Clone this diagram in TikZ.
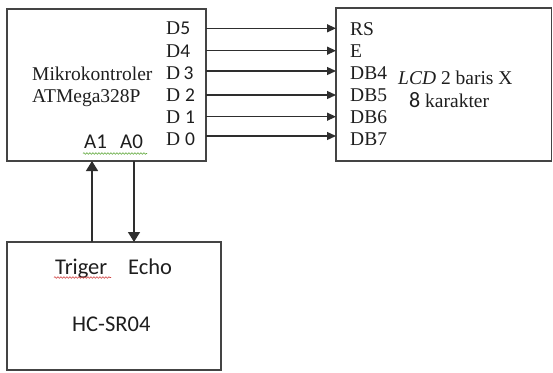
\documentclass[tikz,border=0pt]{standalone}
\usepackage{fontspec}
\setmainfont{Liberation Serif}
\newfontfamily\calfont{Carlito}
\usetikzlibrary{arrows.meta,decorations.pathmorphing}
\definecolor{linec}{HTML}{2E2E2E}
\definecolor{boxc}{HTML}{444444}
\definecolor{txtc}{HTML}{1E1E1E}
\definecolor{spellg}{HTML}{5FA83A}
\definecolor{spellr}{HTML}{D04040}
\begin{document}
\begin{tikzpicture}[x=1pt,y=-1pt,
  box/.style={draw=boxc, line width=1.5pt, rectangle, inner sep=0pt, outer sep=0pt, anchor=north west},
  lbl/.style={anchor=base west, inner sep=0pt, text=txtc, font=\fontsize{19.5}{23}\selectfont},
  slbl/.style={anchor=base west, inner sep=0pt, text=txtc, font=\calfont\fontsize{22.5}{26}\selectfont},
  alab/.style={anchor=base west, inner sep=0pt, text=txtc, font=\calfont\fontsize{21}{24}\selectfont},
  harr/.style={draw=linec, line width=1.3pt, -{Triangle[width=8pt,length=9pt]}},
  varr/.style={draw=linec, line width=1.4pt, -{Triangle[width=12pt,length=10pt]}},
  wavy/.style={line width=0.6pt, decorate, decoration={snake, amplitude=0.8pt, segment length=3pt}}]
\useasboundingbox (0,0) rectangle (553,372);
% boxes
\node[box, minimum width=199pt, minimum height=152pt] (mcu) at (7,9) {};
\node[box, minimum width=215.5pt, minimum height=153pt] (lcd) at (336,8) {};
\node[box, minimum width=214pt, minimum height=128pt] (hc) at (7,242) {};
% MCU texts
\node[lbl] (m1) at (32,80) {Mikrokontroler};
\node[lbl] (m2) at (32,102) {ATMega328P};
\node[lbl] (d5) at (166,34.5) {D{\calfont 5}};
\node[lbl] (d4) at (166,57) {D{\calfont 4}};
\node[lbl] (d3) at (166,79) {D\,{\calfont 3}};
\node[lbl] (d2) at (166,101) {D {\calfont 2}};
\node[lbl] (d1) at (166,123) {D {\calfont 1}};
\node[lbl] (d0) at (166,145) {D {\calfont 0}};
\node[alab] (a1) at (84,148) {A1};
\node[alab] (a0) at (120,148) {A0};
\draw[wavy, spellg] (83,153.5) -- (147,153.5);
% LCD texts
\node[lbl] (rs) at (350,35) {RS};
\node[lbl] (e) at (350,57) {E};
\node[lbl] (db4) at (350,79) {DB4};
\node[lbl] (db5) at (350,101) {DB5};
\node[lbl] (db6) at (350,123) {DB6};
\node[lbl] (db7) at (350,145) {DB7};
\node[lbl] (l1) at (398,84) {\textit{LCD} 2 baris X};
\node[lbl] (l2) at (409,107) {{\calfont\fontsize{22}{24}\selectfont 8} karakter};
% HC texts
\node[slbl] (tr) at (55,274) {Triger};
\node[slbl] (ec) at (128,274) {Echo};
\node[slbl] (hcs) at (72,331) {HC-SR04};
\draw[wavy, spellr] (54,277.5) -- (111,277.5);
% row coordinates
\coordinate (r1) at (0,28.3);
\coordinate (r2) at (0,50.7);
\coordinate (r3) at (0,71);
\coordinate (r4) at (0,95);
\coordinate (r5) at (0,116.7);
\coordinate (r6) at (0,136);
\foreach \r in {r1,r2,r3,r4,r5,r6}
  \draw[harr] (mcu.east |- \r) -- (lcd.west |- \r);
% vertical connectors
\coordinate (xa1) at (92,0);
\coordinate (xa0) at (134,0);
\draw[varr] (hc.north -| xa1) -- (mcu.south -| xa1);
\draw[varr] (mcu.south -| xa0) -- (hc.north -| xa0);
\end{tikzpicture}
\end{document}
